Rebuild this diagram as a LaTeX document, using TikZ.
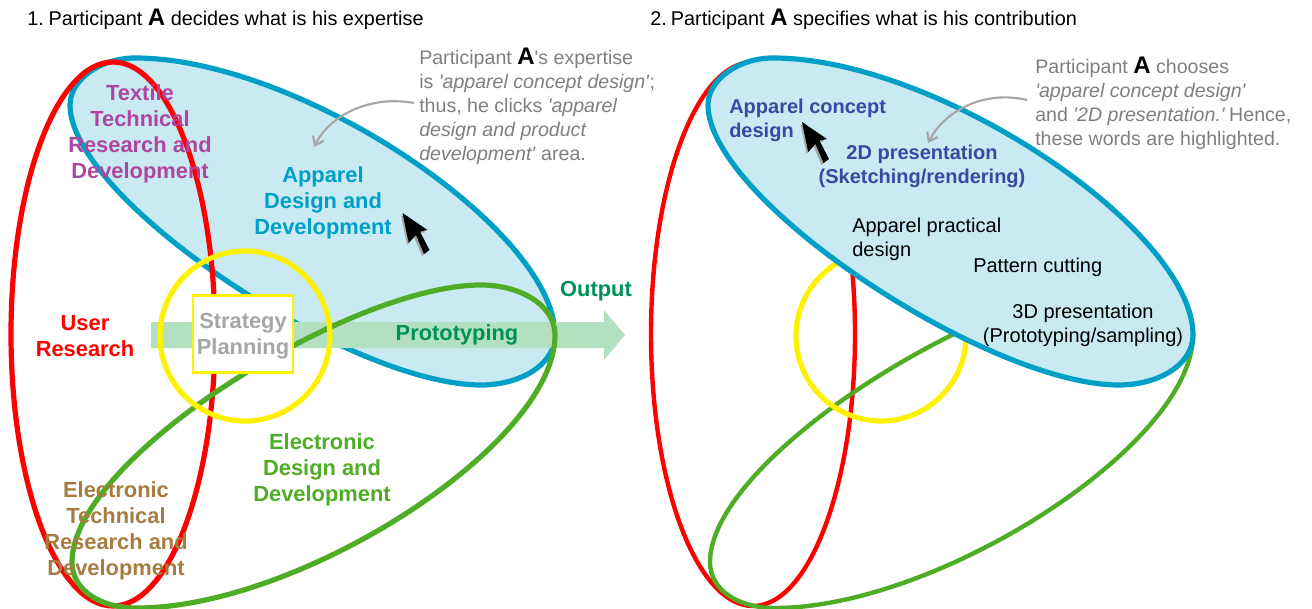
\documentclass[tikz,border=0pt]{standalone}
\usepackage{fontspec}
\usetikzlibrary{arrows.meta}
\newfontfamily\lib{Liberation Sans}
\definecolor{cblue}{HTML}{009FC6}
\definecolor{cfill}{HTML}{C9EAF3}
\definecolor{cgreen}{HTML}{4FAC25}
\definecolor{cflow}{HTML}{B2E0C1}
\definecolor{cout}{HTML}{00915A}
\definecolor{cpurple}{HTML}{AE46A0}
\definecolor{cbrown}{HTML}{A67C40}
\definecolor{cnavy}{HTML}{3B47A0}
\definecolor{cnote}{HTML}{7F7F7F}
\definecolor{ccall}{HTML}{A6A6A6}
\newcommand{\bigA}{{\fontsize{18}{18}\selectfont\bfseries A}}
\newcommand{\cursorshape}[2]{%
  \fill[gray!70,shift={(#1,#2)}] (401,215) -- (407,245) -- (414,237) -- (422,256) -- (427,252) -- (418,234) -- (425,232) -- cycle;
  \fill[black,shift={(#1,#2)}] (402.5,213) -- (408.7,243) -- (416,235) -- (424,254) -- (429.5,250) -- (420,231.7) -- (427.4,230) -- cycle;}
\newcommand{\blueloop}{(70,105) .. controls (70,80) and (100,58) .. (135,58) .. controls (300,58) and (555,230) .. (555,335) .. controls (555,365) and (520,385) .. (481,385) .. controls (350,385) and (70,200) .. cycle}
\newcommand{\greenloop}{(481,285) .. controls (520,285) and (555,305) .. (555,335) .. controls (555,445) and (300,608) .. (137,608) .. controls (100,608) and (72,590) .. (72,562) .. controls (72,458) and (350,285) .. cycle}
\tikzset{
  ringline/.style={line width=3.9pt},
  thinring/.style={line width=3.3pt},
  head/.style={font=\lib\fontsize{14.9}{18}\selectfont,anchor=west,inner sep=0pt,text=black},
  note/.style={font=\lib\fontsize{14.7}{18}\selectfont,anchor=west,align=left,inner sep=0pt,text=cnote},
  plain/.style={font=\lib\fontsize{15}{18}\selectfont,align=left,inner sep=0pt,text=black},
  tag/.style={font=\lib\fontsize{16.4}{19.5}\selectfont\bfseries,align=center,inner sep=0pt},
  sub/.style={font=\lib\fontsize{15}{18}\selectfont\bfseries,inner sep=0pt,text=cnavy},
  callout/.style={draw=ccall,line width=1.6pt,-{Straight Barb[length=6pt,width=9pt]}},
}
\begin{document}
\begin{tikzpicture}[x=0.75pt,y=-0.75pt]
\useasboundingbox (0,0) rectangle (1312,609);
% left panel
\draw[ringline,cblue,fill=cfill] \blueloop;
\fill[cflow] (151,322) -- (604,322) -- (604,310) -- (625,335) -- (604,360) -- (604,348) -- (151,348) -- cycle;
\draw[ringline,red] (113,334) ellipse [x radius=102,y radius=272];
\draw[ringline,cgreen] \greenloop;
\draw[ringline,yellow] (245,336) ellipse [x radius=85,y radius=85];
\node[draw=yellow,fill=white,line width=2.2pt,minimum width=75pt,minimum height=58pt,inner sep=0pt] (box) at (243,334) {};
% right panel
\draw[thinring,red] (753,334) ellipse [x radius=102,y radius=272];
\draw[thinring,cgreen,shift={(638,0)}] \greenloop;
\draw[ringline,yellow] (881,336) ellipse [x radius=85,y radius=85];
\draw[ringline,cblue,fill=cfill,shift={(638,0)}] \blueloop;
% headings
\node[head] (h1) at (27,19) {1.\hspace{-2pt} Participant \bigA{} decides what is his expertise};
\node[head] (h2) at (650,19) {2.\hspace{-2.5pt} Participant \bigA{} specifies what is his contribution};
% left labels
\node[tag,text=cpurple] (textile) at (140,134) {Textile\\Technical\\Research and\\Development};
\node[tag,text=cblue] (apparel) at (323,203) {Apparel\\Design and\\Development};
\node[tag,text=red] (user) at (85,336) {User\\Research};
\node[tag,text=ccall] (strategy) at (243,336) {Strategy\\Planning};
\node[tag,text=cout] (proto) at (457,335) {Prototyping};
\node[tag,text=cout] (output) at (596,291) {Output};
\node[tag,text=cgreen] (edd) at (322,470) {Electronic\\Design and\\Development};
\node[tag,text=cbrown] (etr) at (116,531) {Electronic\\Technical\\Research and\\Development};
% notes
\node[note] (n1) at (419,106) {Participant \textcolor{black}{\bigA}'s expertise\\is \textit{'apparel concept design'};\\thus, he clicks \textit{'apparel}\\\textit{design and product}\\\textit{development'} area.};
\node[note] (n2) at (1035,103) {Participant \textcolor{black}{\bigA} chooses\\\textit{'apparel concept design'}\\and \textit{'2D presentation.'}\hspace{-2.5pt} Hence,\\these words are highlighted.};
% right labels
\node[sub,anchor=west,align=left] (s1) at (729,120.5) {Apparel concept\\design};
\node[sub,align=center] (s2) at (922,166) {2D presentation\\(Sketching/rendering)};
\node[plain,anchor=west] (p1) at (852,239) {Apparel practical\\design};
\node[plain,anchor=west] (p2) at (973,267) {Pattern cutting};
\node[plain,align=center] (p3) at (1083,325) {3D presentation\\(Prototyping/sampling)};
% callouts
\coordinate (c1s) at (414,103);
\coordinate (c1e) at (314,147);
\coordinate (c2s) at (1027,100);
\coordinate (c2e) at (928,143);
\draw[callout] (c1s) .. controls (370,95) and (330,115) .. (c1e);
\draw[callout] (c2s) .. controls (985,90) and (945,110) .. (c2e);
% cursors
\cursorshape{0}{0}
\cursorshape{399.5}{-91}
\end{tikzpicture}
\end{document}
